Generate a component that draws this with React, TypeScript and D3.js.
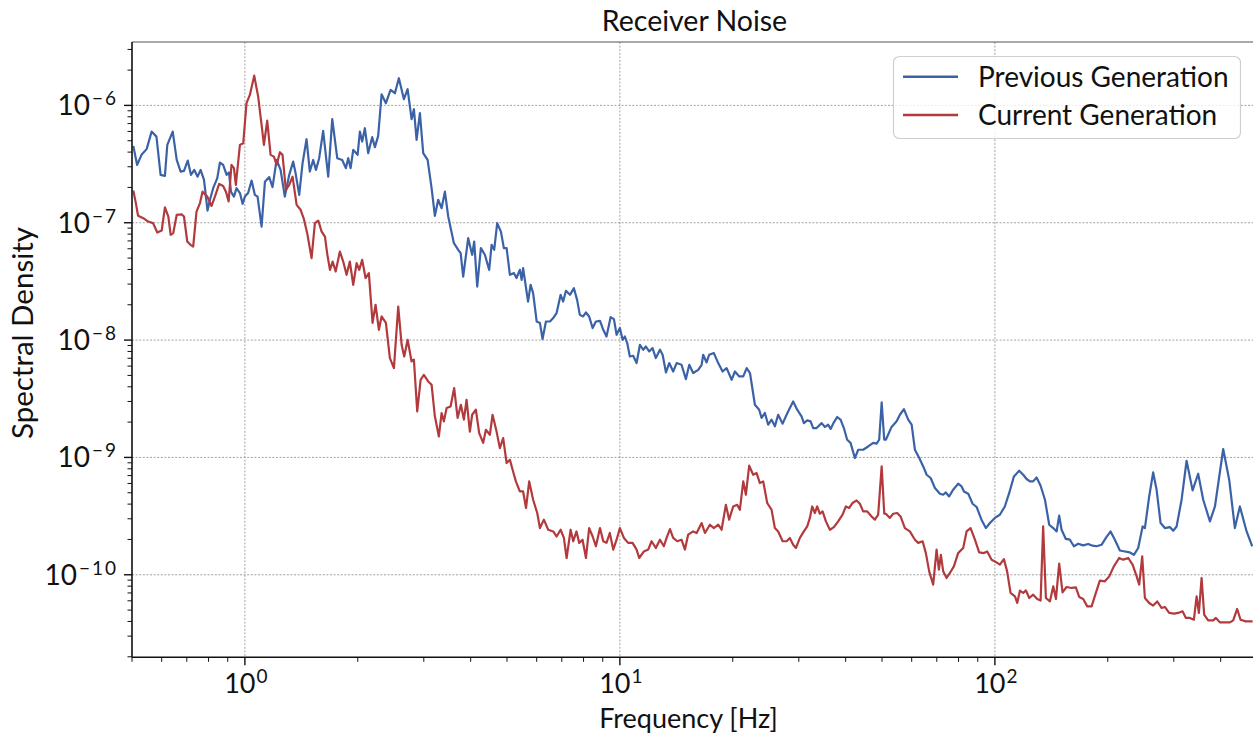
import React from 'react';
import * as d3 from 'd3';

const prevFreq = [
  0.504, 0.516, 0.530, 0.547, 0.564, 0.581, 0.596, 0.612, 0.621, 0.642,
  0.658, 0.674, 0.688, 0.704, 0.718, 0.733, 0.748, 0.762, 0.778, 0.795,
  0.807, 0.823, 0.844, 0.858, 0.875, 0.894, 0.907, 0.918, 0.935, 0.950,
  0.970, 0.986, 1.000, 1.020, 1.042, 1.063, 1.081, 1.108, 1.131, 1.161,
  1.185, 1.215, 1.245, 1.278, 1.313, 1.345, 1.365, 1.396, 1.425, 1.460,
  1.490, 1.521, 1.547, 1.578, 1.617, 1.668, 1.710, 1.763, 1.818, 1.859,
  1.886, 1.914, 1.945, 1.998, 2.026, 2.055, 2.089, 2.132, 2.185, 2.222,
  2.267, 2.315, 2.377, 2.446, 2.512, 2.574, 2.655, 2.716, 2.783, 2.823,
  2.870, 2.929, 2.989, 3.071, 3.147, 3.211, 3.277, 3.346, 3.415, 3.485,
  3.609, 3.706, 3.761, 3.821, 3.940, 4.037, 4.088, 4.164, 4.259, 4.365,
  4.482, 4.549, 4.622, 4.708, 4.816, 4.905, 4.988, 5.09, 5.22, 5.30,
  5.41, 5.47, 5.52, 5.69, 5.78, 5.87, 6.00, 6.12, 6.22, 6.35,
  6.51, 6.64, 6.78, 6.95, 7.06, 7.18, 7.36, 7.54, 7.69, 7.82,
  7.98, 8.12, 8.28, 8.46, 8.63, 8.85, 9.03, 9.21, 9.45, 9.64,
  9.80, 10.0, 10.17, 10.31, 10.46, 10.63, 10.85, 11.08, 11.31, 11.54,
  11.73, 11.97, 12.22, 12.47, 12.79, 13.00, 13.27, 13.54, 13.87, 14.17,
  14.60, 15.00, 15.31, 15.68, 16.18, 16.52, 16.68, 17.03, 17.30, 17.81,
  18.29, 18.79, 19.26, 19.86, 20.27, 20.81, 21.33, 21.78, 22.23, 22.91,
  23.52, 23.87, 24.36, 24.86, 25.38, 25.90, 26.43, 27.16, 27.83, 28.40,
  28.98, 29.70, 30.51, 30.95, 31.59, 32.25, 32.77, 33.46, 34.51, 35.22,
  35.94, 36.47, 37.21, 37.97, 38.77, 39.56, 40.37, 41.22, 42.33, 43.20,
  44.54, 45.93, 47.37, 48.36, 49.14, 49.9, 50.7, 51.20, 53.03, 54.70,
  55.81, 57.20, 58.73, 59.98, 61.2, 62.85, 64.4, 65.77, 67.4, 69.2,
  71.35, 72.8, 74.0, 75.5, 77.4, 79.8, 81.5, 82.7, 84.9, 87.2,
  89.4, 92.1, 94.6, 97.0, 100, 103.1, 106.3, 109.2, 112.4, 116.1,
  119.0, 121.5, 124.0, 126.5, 129.2, 132.4, 136.0, 139.6, 143.1, 146.1,
  148.4, 150.6, 154.6, 158.5, 162.4, 166.8, 172.0, 177.4, 182.2, 186.7,
  192.5, 197.7, 203.5, 208.9, 215.4, 222.2, 229.1, 234.8, 241.1, 247.7,
  251.2, 257.9, 264.3, 269.9, 276.6, 284.0, 292.9, 298.9, 305.2, 314.7,
  324.5, 336.7, 348.4, 359.4, 374.5, 386.2, 406.3, 421.5, 436.5, 450.1,
  469.1, 485.5,
];

const prevValue = [
  4.52e-7, 3.11e-7, 3.79e-7, 4.24e-7, 5.98e-7, 5.42e-7, 2.56e-7, 2.51e-7, 4.61e-7, 5.98e-7,
  3.43e-7, 2.73e-7, 2.77e-7, 3.39e-7, 2.56e-7, 2.82e-7, 2.47e-7, 2.82e-7, 2.32e-7, 1.27e-7,
  1.57e-7, 1.97e-7, 2.40e-7, 3.26e-7, 3.11e-7, 2.56e-7, 2.68e-7, 1.84e-7, 1.67e-7, 1.97e-7,
  1.79e-7, 1.45e-7, 1.67e-7, 1.79e-7, 2.29e-7, 1.73e-7, 1.67e-7, 9.28e-8, 2.24e-7, 2.45e-7,
  2.01e-7, 3.43e-7, 2.82e-7, 1.67e-7, 2.56e-7, 3.32e-7, 2.65e-7, 1.73e-7, 3.22e-7, 5.15e-7,
  2.73e-7, 3.43e-7, 2.82e-7, 3.55e-7, 6.07e-7, 2.47e-7, 7.63e-7, 3.55e-7, 3.43e-7, 2.92e-7,
  3.55e-7, 2.92e-7, 4.18e-7, 3.79e-7, 5.98e-7, 4.92e-7, 6.39e-7, 3.92e-7, 5.36e-7, 4.41e-7,
  5.50e-7, 1.245e-6, 1.044e-6, 1.355e-6, 1.27e-6, 1.705e-6, 1.129e-6, 1.374e-6, 7.63e-7, 9.28e-7,
  5.08e-7, 8.58e-7, 3.92e-7, 3.43e-7, 1.97e-7, 1.145e-7, 1.57e-7, 1.33e-7, 1.84e-7, 1.13e-7,
  6.70e-8, 5.88e-8, 5.51e-8, 3.48e-8, 7.39e-8, 5.33e-8, 6.92e-8, 2.86e-8, 6.08e-8, 5.33e-8,
  3.97e-8, 6.48e-8, 5.88e-8, 9.92e-8, 8.41e-8, 6.08e-8, 6.08e-8, 3.60e-8, 3.72e-8, 3.38e-8,
  3.97e-8, 3.26e-8, 4.11e-8, 2.13e-8, 2.96e-8, 2.51e-8, 1.44e-8, 1.40e-8, 1.02e-8, 1.44e-8,
  1.44e-8, 1.54e-8, 1.70e-8, 2.43e-8, 2.13e-8, 2.63e-8, 2.43e-8, 2.77e-8, 2.20e-8, 1.64e-8,
  1.59e-8, 1.72e-8, 1.59e-8, 1.265e-8, 1.44e-8, 1.46e-8, 1.224e-8, 1.073e-8, 1.57e-8, 1.51e-8,
  1.11e-8, 1.265e-8, 1.006e-8, 1.073e-8, 9.43e-9, 7.25e-9, 7.35e-9, 6.37e-9, 9.12e-9, 8.27e-9,
  8.82e-9, 8.00e-9, 8.55e-9, 7.03e-9, 8.27e-9, 7.50e-9, 5.30e-9, 6.37e-9, 5.40e-9, 6.37e-9,
  6.16e-9, 4.65e-9, 6.16e-9, 5.24e-9, 5.58e-9, 6.16e-9, 7.50e-9, 6.45e-9, 7.50e-9, 7.75e-9,
  6.37e-9, 5.40e-9, 5.77e-9, 4.59e-9, 5.40e-9, 4.90e-9, 4.90e-9, 5.77e-9, 5.24e-9, 2.81e-9,
  2.55e-9, 2.17e-9, 2.39e-9, 1.90e-9, 2.10e-9, 1.84e-9, 2.31e-9, 1.94e-9, 2.31e-9, 2.64e-9,
  3.00e-9, 2.55e-9, 2.24e-9, 1.96e-9, 2.07e-9, 2.03e-9, 1.78e-9, 1.78e-9, 1.96e-9, 1.82e-9,
  1.90e-9, 1.75e-9, 1.99e-9, 2.21e-9, 2.10e-9, 1.78e-9, 1.415e-9, 1.33e-9, 9.88e-10, 1.163e-9,
  1.163e-9, 1.24e-9, 1.33e-9, 1.31e-9, 1.415e-9, 2.94e-9, 1.415e-9, 1.415e-9, 1.82e-9, 2.03e-9,
  2.31e-9, 2.58e-9, 2.10e-9, 1.90e-9, 1.163e-9, 9.88e-10, 8.38e-10, 7.12e-10, 6.68e-10, 5.49e-10,
  4.91e-10, 4.81e-10, 5.03e-10, 4.65e-10, 5.31e-10, 5.97e-10, 5.66e-10, 5.13e-10, 4.91e-10, 4.03e-10,
  3.78e-10, 2.95e-10, 2.50e-10, 2.76e-10, 3.05e-10, 3.25e-10, 3.82e-10, 4.98e-10, 6.89e-10, 7.70e-10,
  7.12e-10, 6.55e-10, 6.25e-10, 6.25e-10, 6.75e-10, 5.74e-10, 4.36e-10, 2.67e-10, 2.50e-10, 2.34e-10,
  3.19e-10, 2.42e-10, 2.02e-10, 1.99e-10, 1.75e-10, 1.84e-10, 1.78e-10, 1.83e-10, 1.77e-10, 1.75e-10,
  1.80e-10, 2.06e-10, 2.34e-10, 1.99e-10, 1.61e-10, 1.58e-10, 1.55e-10, 1.48e-10, 1.69e-10, 2.58e-10,
  2.50e-10, 4.65e-10, 7.45e-10, 5.31e-10, 2.76e-10, 2.50e-10, 2.55e-10, 2.37e-10, 2.58e-10, 4.36e-10,
  9.37e-10, 5.24e-10, 7.26e-10, 4.36e-10, 2.85e-10, 3.82e-10, 1.18e-9, 6.46e-10, 2.50e-10, 3.82e-10,
  2.34e-10, 1.75e-10,
];

const currFreq = [
  0.504, 0.512, 0.519, 0.536, 0.552, 0.569, 0.584, 0.600, 0.612, 0.625,
  0.634, 0.644, 0.658, 0.678, 0.688, 0.702, 0.716, 0.728, 0.743, 0.759,
  0.771, 0.794, 0.815, 0.832, 0.854, 0.875, 0.890, 0.905, 0.921, 0.935,
  0.946, 0.970, 0.990, 1.010, 1.031, 1.059, 1.085, 1.108, 1.124, 1.147,
  1.171, 1.195, 1.215, 1.240, 1.260, 1.286, 1.313, 1.340, 1.374, 1.408,
  1.437, 1.466, 1.506, 1.537, 1.569, 1.602, 1.635, 1.658, 1.686, 1.714,
  1.746, 1.792, 1.829, 1.867, 1.905, 1.945, 1.986, 2.018, 2.055, 2.098,
  2.141, 2.190, 2.231, 2.277, 2.315, 2.377, 2.436, 2.497, 2.564, 2.618,
  2.660, 2.716, 2.783, 2.823, 2.881, 2.942, 3.001, 3.082, 3.147, 3.211,
  3.291, 3.346, 3.394, 3.451, 3.536, 3.615, 3.692, 3.767, 3.837, 3.901,
  3.981, 4.037, 4.130, 4.215, 4.320, 4.392, 4.501, 4.576, 4.690, 4.786,
  4.884, 4.988, 5.09, 5.19, 5.28, 5.41, 5.52, 5.62, 5.73, 5.87,
  6.02, 6.12, 6.27, 6.44, 6.64, 6.78, 6.95, 7.09, 7.21, 7.39,
  7.51, 7.66, 7.79, 7.95, 8.12, 8.28, 8.46, 8.63, 8.85, 9.03,
  9.21, 9.40, 9.60, 9.80, 10.0, 10.25, 10.52, 10.81, 11.08, 11.26,
  11.59, 11.90, 12.15, 12.47, 12.79, 13.10, 13.32, 13.60, 13.87, 14.22,
  14.60, 14.91, 15.21, 15.68, 16.02, 16.52, 16.86, 17.38, 17.81, 18.29,
  18.67, 19.17, 19.56, 20.05, 20.55, 20.89, 21.33, 21.68, 22.12, 22.67,
  23.15, 23.62, 24.11, 24.71, 25.38, 25.90, 26.43, 27.16, 27.83, 28.40,
  28.98, 29.47, 30.20, 30.95, 31.59, 32.11, 32.57, 33.11, 33.58, 34.15,
  34.72, 35.43, 36.31, 37.21, 38.20, 39.25, 40.05, 40.88, 41.74, 42.78,
  43.65, 44.54, 45.65, 46.90, 47.86, 48.84, 49.9, 50.7, 51.20, 52.48,
  53.55, 54.89, 56.04, 57.54, 59.33, 61.2, 62.46, 64.16, 65.46, 66.80,
  68.47, 69.90, 70.91, 71.78, 72.8, 74.33, 75.86, 77.74, 79.8, 82.32,
  84.05, 86.14, 88.46, 90.8, 93.5, 95.4, 98.0, 101.0, 103.1, 105.7,
  107.8, 110.1, 113.1, 114.7, 116.6, 119.0, 121.0, 123.5, 126.5, 129.7,
  132.4, 134.5, 136.8, 140.2, 143.1, 145.5, 148.4, 151.5, 155.3, 160.2,
  164.4, 167.8, 172.0, 176.3, 181.1, 185.9, 190.5, 196.5, 201.8, 207.6,
  214.5, 219.9, 226.8, 232.9, 238.8, 242.6, 247.1, 251.2, 257.9, 264.3,
  270.9, 278.3, 284.0, 291.6, 300.2, 308.2, 316.6, 323.1, 331.1, 339.4,
  345.1, 349.9, 355.8, 361.5, 370.5, 382.1, 388.5, 398.1, 410.5, 423.4,
  432.0, 442.7, 452.0, 467.0, 486.7,
];

const currValue = [
  1.88e-7, 1.47e-7, 1.145e-7, 1.094e-7, 1.024e-7, 9.92e-8, 8.25e-8, 8.58e-8, 1.35e-7, 1.13e-7,
  7.89e-8, 8.15e-8, 1.17e-7, 1.18e-7, 1.13e-7, 6.92e-8, 6.48e-8, 6.27e-8, 1.245e-7, 1.47e-7,
  1.84e-7, 1.67e-7, 1.39e-7, 1.67e-7, 2.14e-7, 2.06e-7, 1.84e-7, 1.52e-7, 3.11e-7, 2.92e-7,
  2.10e-7, 4.61e-7, 4.76e-7, 1.044e-6, 1.229e-6, 1.794e-6, 1.188e-6, 6.82e-7, 4.61e-7, 7.42e-7,
  3.79e-7, 3.66e-7, 3.11e-7, 3.99e-7, 3.79e-7, 1.91e-7, 2.10e-7, 2.47e-7, 1.42e-7, 1.29e-7,
  1.073e-7, 8.15e-8, 4.99e-8, 9.92e-8, 1.044e-7, 8.41e-8, 7.63e-8, 5.43e-8, 3.97e-8, 4.67e-8,
  3.84e-8, 5.68e-8, 4.67e-8, 3.60e-8, 4.67e-8, 2.96e-8, 4.53e-8, 3.97e-8, 4.83e-8, 3.38e-8,
  3.72e-8, 1.40e-8, 2.00e-8, 1.224e-8, 1.59e-8, 1.40e-8, 7.03e-9, 5.77e-9, 1.93e-8, 9.12e-9,
  7.25e-9, 1.006e-8, 6.57e-9, 6.80e-9, 2.47e-9, 4.59e-9, 5.06e-9, 4.44e-9, 4.16e-9, 2.24e-9,
  1.51e-9, 2.39e-9, 2.03e-9, 2.64e-9, 2.72e-9, 3.90e-9, 2.17e-9, 2.81e-9, 2.10e-9, 3.10e-9,
  1.66e-9, 2.31e-9, 2.55e-9, 1.61e-9, 1.33e-9, 1.72e-9, 1.56e-9, 2.31e-9, 1.66e-9, 1.20e-9,
  1.46e-9, 8.96e-10, 9.56e-10, 7.60e-10, 6.25e-10, 5.13e-10, 5.13e-10, 3.71e-10, 6.25e-10, 4.36e-10,
  3.36e-10, 2.50e-10, 2.95e-10, 2.42e-10, 2.34e-10, 2.12e-10, 2.42e-10, 2.06e-10, 1.39e-10, 2.42e-10,
  1.93e-10, 2.34e-10, 1.87e-10, 1.99e-10, 1.39e-10, 2.50e-10, 2.12e-10, 1.75e-10, 2.50e-10, 1.93e-10,
  1.87e-10, 2.27e-10, 1.64e-10, 1.99e-10, 2.50e-10, 2.06e-10, 1.87e-10, 1.87e-10, 1.64e-10, 1.39e-10,
  1.58e-10, 1.64e-10, 1.93e-10, 1.69e-10, 1.99e-10, 1.75e-10, 2.06e-10, 2.45e-10, 2.06e-10, 1.93e-10,
  1.99e-10, 1.64e-10, 2.20e-10, 2.34e-10, 2.27e-10, 2.76e-10, 2.27e-10, 2.67e-10, 2.50e-10, 2.67e-10,
  2.42e-10, 3.95e-10, 2.95e-10, 3.82e-10, 3.95e-10, 3.58e-10, 6.25e-10, 4.81e-10, 8.50e-10, 7.12e-10,
  7.36e-10, 6.05e-10, 6.25e-10, 4.09e-10, 3.58e-10, 2.50e-10, 2.34e-10, 1.93e-10, 1.93e-10, 2.06e-10,
  1.80e-10, 1.69e-10, 2.06e-10, 2.34e-10, 2.58e-10, 3.05e-10, 3.82e-10, 3.36e-10, 3.82e-10, 3.31e-10,
  3.47e-10, 2.85e-10, 2.42e-10, 2.55e-10, 2.85e-10, 3.25e-10, 3.82e-10, 3.71e-10, 4.09e-10, 4.30e-10,
  4.03e-10, 3.47e-10, 3.47e-10, 3.14e-10, 2.95e-10, 3.25e-10, 8.38e-10, 3.31e-10, 3.31e-10, 3.05e-10,
  3.31e-10, 3.36e-10, 3.14e-10, 2.50e-10, 2.34e-10, 1.99e-10, 1.87e-10, 1.93e-10, 1.53e-10, 1.069e-10,
  8.24e-11, 1.64e-10, 1.105e-10, 1.48e-10, 1.069e-10, 9.39e-11, 1.036e-10, 1.18e-10, 1.53e-10, 1.69e-10,
  2.34e-10, 2.50e-10, 1.99e-10, 1.55e-10, 1.53e-10, 1.58e-10, 1.345e-10, 1.275e-10, 1.22e-10, 1.36e-10,
  1.069e-10, 7.00e-11, 6.55e-11, 5.75e-11, 7.32e-11, 7.00e-11, 7.36e-11, 6.34e-11, 6.77e-11, 6.22e-11,
  6.02e-11, 2.58e-10, 6.34e-11, 5.93e-11, 7.97e-11, 6.22e-11, 1.243e-10, 7.08e-11, 7.87e-11, 7.72e-11,
  7.81e-11, 6.47e-11, 6.22e-11, 5.38e-11, 5.38e-11, 7.00e-11, 8.90e-11, 8.79e-11, 9.69e-11, 1.18e-10,
  1.39e-10, 1.345e-10, 1.39e-10, 1.22e-10, 9.69e-11, 8.24e-11, 1.435e-10, 6.34e-11, 5.75e-11, 5.46e-11,
  5.93e-11, 5.21e-11, 5.32e-11, 4.73e-11, 4.66e-11, 4.73e-11, 4.88e-11, 4.29e-11, 4.29e-11, 4.14e-11,
  6.55e-11, 4.73e-11, 9.39e-11, 4.57e-11, 4.09e-11, 4.09e-11, 4.29e-11, 3.93e-11, 3.93e-11, 3.93e-11,
  4.09e-11, 5.11e-11, 4.14e-11, 4.01e-11, 4.01e-11,
];

const seriesNames = ['Previous Generation', 'Current Generation'];
const seriesColors = ['#3b62a6', '#b23a3d'];
const xTickExps = [0, 1, 2];
const yTickExps = [-10, -9, -8, -7, -6];
const xDomain = [0.5, 500];
const yDomain = [1.98e-11, 3.47e-6];
const titleText = 'Receiver Noise';
const xLabelText = 'Frequency [Hz]';
const yLabelText = 'Spectral Density';

const W = 1253;
const H = 733;
const L = 132;
const R = 1257;
const T = 42;
const B = 657.3;
const FONT = 'Lato, "DejaVu Sans", sans-serif';

export default function App() {
  const x = d3.scaleLog().domain(xDomain).range([L, R]);
  const y = d3.scaleLog().domain(yDomain).range([B, T]);

  const line = d3
    .line<[number, number]>()
    .x((d) => x(d[0]))
    .y((d) => y(d[1]));

  const prevData: [number, number][] = prevFreq.map((f, i) => [f, prevValue[i]]);
  const currData: [number, number][] = currFreq.map((f, i) => [f, currValue[i]]);

  const xMinor: number[] = [];
  for (let e = -1; e <= 2; e++) {
    for (let m = 2; m <= 9; m++) {
      const v = m * Math.pow(10, e);
      if (v >= xDomain[0] && v <= xDomain[1]) xMinor.push(v);
    }
  }
  const yMinor: number[] = [];
  for (let e = -11; e <= -6; e++) {
    for (let m = 2; m <= 9; m++) {
      const v = m * Math.pow(10, e);
      if (v >= yDomain[0] && v <= yDomain[1]) yMinor.push(v);
    }
  }

  const gridStyle = { stroke: '#8a8a8a', strokeWidth: 0.8, strokeDasharray: '2,1.6' };

  return (
    <svg
      width={W}
      height={H}
      style={{ position: 'absolute', left: 0, top: 0, background: '#fff' }}
      fontFamily={FONT}
    >
      <defs>
        <clipPath id="plotClip">
          <rect x={L} y={T} width={R - L} height={B - T} />
        </clipPath>
      </defs>
      <rect x={0} y={0} width={W} height={H} fill="#fff" />

      {/* grid */}
      {xTickExps.map((e) => (
        <line key={'gx' + e} x1={x(Math.pow(10, e))} x2={x(Math.pow(10, e))} y1={T} y2={B} {...gridStyle} />
      ))}
      {yTickExps.map((e) => (
        <line key={'gy' + e} x1={L} x2={R} y1={y(Math.pow(10, e))} y2={y(Math.pow(10, e))} {...gridStyle} />
      ))}

      {/* series */}
      <g clipPath="url(#plotClip)">
        <path d={line(prevData) || ''} fill="none" stroke={seriesColors[0]} strokeWidth={2.2} strokeLinejoin="round" />
        <path d={line(currData) || ''} fill="none" stroke={seriesColors[1]} strokeWidth={2.2} strokeLinejoin="round" />
      </g>

      {/* spines */}
      <line x1={L} x2={R} y1={T} y2={T} stroke="#555" strokeWidth={1.2} />
      <line x1={L} x2={L} y1={T} y2={B} stroke="#111" strokeWidth={1.6} />
      <line x1={L} x2={R} y1={B} y2={B} stroke="#111" strokeWidth={1.6} />

      {/* x ticks */}
      {xTickExps.map((e) => (
        <line key={'xt' + e} x1={x(Math.pow(10, e))} x2={x(Math.pow(10, e))} y1={B} y2={B + 8} stroke="#111" strokeWidth={1.4} />
      ))}
      {xMinor.map((v) => (
        <line key={'xm' + v} x1={x(v)} x2={x(v)} y1={B} y2={B + 4.5} stroke="#111" strokeWidth={1} />
      ))}
      {xTickExps.map((e) => (
        <text key={'xl' + e} x={x(Math.pow(10, e)) + 1} y={693} textAnchor="middle" fontSize={27} fill="#111">
          10
          <tspan fontSize={19} dx={1} dy={-10}>{String(e)}</tspan>
        </text>
      ))}

      {/* y ticks */}
      {yTickExps.map((e) => (
        <line key={'yt' + e} x1={L - 8} x2={L} y1={y(Math.pow(10, e))} y2={y(Math.pow(10, e))} stroke="#111" strokeWidth={1.4} />
      ))}
      {yMinor.map((v) => (
        <line key={'ym' + v} x1={L - 4.5} x2={L} y1={y(v)} y2={y(v)} stroke="#111" strokeWidth={1} />
      ))}
      {yTickExps.map((e) => (
        <text key={'yl' + e} x={118} y={y(Math.pow(10, e)) + 10} textAnchor="end" fontSize={28} fill="#111">
          10
          <tspan fontSize={19} dx={2} dy={-10} letterSpacing={2}>{'\u2212' + String(Math.abs(e))}</tspan>
        </text>
      ))}

      {/* labels */}
      <text x={(L + R) / 2} y={31} textAnchor="middle" fontSize={28.5} fill="#111">{titleText}</text>
      <text x={(L + R) / 2 - 6} y={728} textAnchor="middle" fontSize={27} fill="#111">{xLabelText}</text>
      <text transform={`translate(33, 333) rotate(-90)`} textAnchor="middle" fontSize={29.5} fill="#111">
        {yLabelText}
      </text>

      {/* legend */}
      <g>
        <rect x={893.5} y={56.5} width={347} height={82} rx={6} fill="#fff" fillOpacity={0.8} stroke="#cfcfcf" strokeWidth={1.2} />
        {seriesNames.map((name, i) => (
          <g key={name}>
            <line x1={903} x2={958} y1={76.7 + i * 38.3} y2={76.7 + i * 38.3} stroke={seriesColors[i]} strokeWidth={2.5} />
            <text x={978} y={86.5 + i * 38.3} fontSize={28} fill="#111">{name}</text>
          </g>
        ))}
      </g>
    </svg>
  );
}
